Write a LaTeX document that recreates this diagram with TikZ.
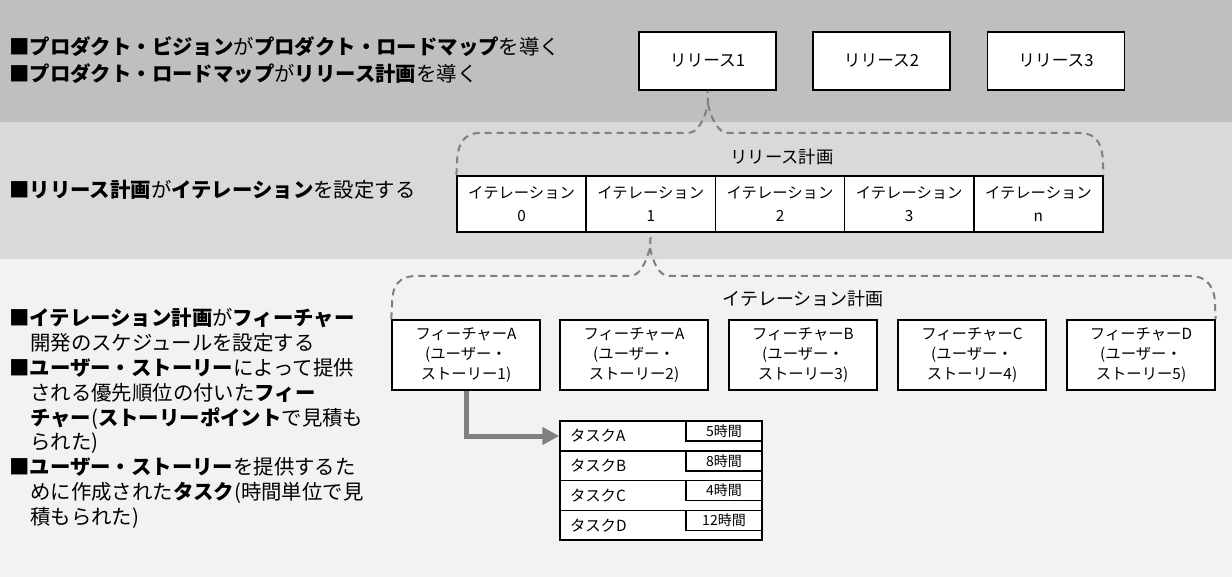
\documentclass[tikz,border=0pt]{standalone}
\usepackage{fontspec}
\setmainfont{Noto Sans CJK JP}
\usetikzlibrary{arrows.meta}
\definecolor{bandA}{HTML}{BFBFBF}
\definecolor{bandB}{HTML}{D9D9D9}
\definecolor{bandC}{HTML}{F2F2F2}
\definecolor{dashgray}{HTML}{7F7F7F}
\definecolor{arrowgray}{HTML}{808080}
\begin{document}
\begin{tikzpicture}[x=0.75pt,y=-0.75pt,
  box/.style={draw=black,line width=1.1pt,fill=white,inner sep=0pt,align=center},
  relbox/.style={box,minimum width=102.75pt,minimum height=43.5pt,font=\fontsize{12.5}{15}\selectfont},
  iterbox/.style={box,minimum width=96.9pt,minimum height=42pt,font=\fontsize{11.5}{17}\selectfont},
  featbox/.style={box,minimum width=111pt,minimum height=52.5pt,font=\fontsize{11.5}{15}\selectfont},
  taskrow/.style={box,minimum width=151.5pt,minimum height=22.3pt,text width=136.5pt,align=left,font=\fontsize{11.5}{14}\selectfont},
  hourbox/.style={box,minimum width=57pt,minimum height=15pt,font=\fontsize{10.5}{12}\selectfont},
  brace/.style={draw=dashgray,line width=1.5pt,dash pattern=on 5.25pt off 3.75pt},
  headline/.style={anchor=base west,inner sep=0pt,font=\fontsize{15.3}{18}\selectfont},
  caption/.style={inner sep=0pt,font=\fontsize{13}{15}\selectfont},
  bigarrow/.style={draw=arrowgray,line width=3.75pt,-{Triangle[length=12.75pt,width=12.75pt]}}
]
\useasboundingbox (0,0) rectangle (1232,577);
% bands
\fill[bandA] (0,0) rectangle (1232,122);
\fill[bandB] (0,122) rectangle (1232,259);
\fill[bandC] (0,259) rectangle (1232,577);

% left texts
\node[headline] (h1) at (9,55) {■\textbf{プロダクト・ビジョン}が\textbf{プロダクト・ロードマップ}を導く};
\node[headline] (h2) at (9,82) {■\textbf{プロダクト・ロードマップ}が\textbf{リリース計画}を導く};
\node[headline] (h3) at (9,198) {■\textbf{リリース計画}が\textbf{イテレーション}を設定する};
\node[headline] (b1) at (9,326) {■\textbf{イテレーション計画}が\textbf{フィーチャー}};
\node[headline] (b2) at (30,350.75) {開発のスケジュールを設定する};
\node[headline] (b3) at (9,375.5) {■\textbf{ユーザー・ストーリー}によって提供};
\node[headline] (b4) at (30,400.25) {される優先順位の付いた\textbf{フィー}};
\node[headline] (b5) at (30,425) {\textbf{チャー}(\textbf{ストーリーポイント}で見積も};
\node[headline] (b6) at (30,449.75) {られた)};
\node[headline] (b7) at (9,474.5) {■\textbf{ユーザー・ストーリー}を提供するた};
\node[headline] (b8) at (30,499.25) {めに作成された\textbf{タスク}(時間単位で見};
\node[headline] (b9) at (30,524) {積もられた)};

% releases
\node[relbox] (r1) at (707.5,61) {リリース1};
\node[relbox] (r2) at (881.5,61) {リリース2};
\node[relbox] (r3) at (1056,61) {リリース3};

% release plan
\node[caption] (rp) at (782,157) {リリース計画};
\node[iterbox] (i0) at (521.6,204) {イテレーション\\0};
\node[iterbox] (i1) at (650.8,204) {イテレーション\\1};
\node[iterbox] (i2) at (780,204) {イテレーション\\2};
\node[iterbox] (i3) at (909.2,204) {イテレーション\\3};
\node[iterbox] (in) at (1038.4,204) {イテレーション\\n};

\draw[brace] (i0.north west) -- (457,165) .. controls (457,145) and (463,133) .. (480,133)
  -- (688,133) .. controls (698,133) and (705,118) .. (708,104) -- (r1.south);
\draw[brace] (708,104) .. controls (711,118) and (718,133) .. (728,133)
  -- (1080,133) .. controls (1097,133) and (1103,145) .. (1103,165) -- (in.north east);

% iteration plan
\node[caption,font=\fontsize{13.5}{15}\selectfont] (ip) at (803,299) {イテレーション計画};
\node[featbox] (f1) at (466,355) {フィーチャーA\\(ユーザー・\\ストーリー1)};
\node[featbox] (f2) at (634,355) {フィーチャーA\\(ユーザー・\\ストーリー2)};
\node[featbox] (f3) at (803,355) {フィーチャーB\\(ユーザー・\\ストーリー3)};
\node[featbox] (f4) at (972,355) {フィーチャーC\\(ユーザー・\\ストーリー4)};
\node[featbox] (f5) at (1141,355) {フィーチャーD\\(ユーザー・\\ストーリー5)};

\draw[brace] (f1.north west) -- (392,305) .. controls (392,285) and (399,276) .. (417,276)
  -- (630,276) .. controls (640,276) and (646,262) .. (650,248) -- (i1.south);
\draw[brace] (650,248) .. controls (653,262) and (659,276) .. (669,276)
  -- (1190,276) .. controls (1208,276) and (1215,288) .. (1215,305) -- (f5.north east);

% tasks
\node[taskrow] (ta) at (661,436) {タスクA};
\node[taskrow] (tb) at (661,465.75) {タスクB};
\node[taskrow] (tc) at (661,495.5) {タスクC};
\node[taskrow] (td) at (661,525.25) {タスクD};
\node[hourbox,anchor=north east] (ha) at (ta.north east) {5時間};
\node[hourbox,anchor=north east] (hb) at (tb.north east) {8時間};
\node[hourbox,anchor=north east] (hc) at (tc.north east) {4時間};
\node[hourbox,anchor=north east] (hd) at (td.north east) {12時間};

\draw[bigarrow] (f1.south) |- (ta.west);
\end{tikzpicture}
\end{document}
